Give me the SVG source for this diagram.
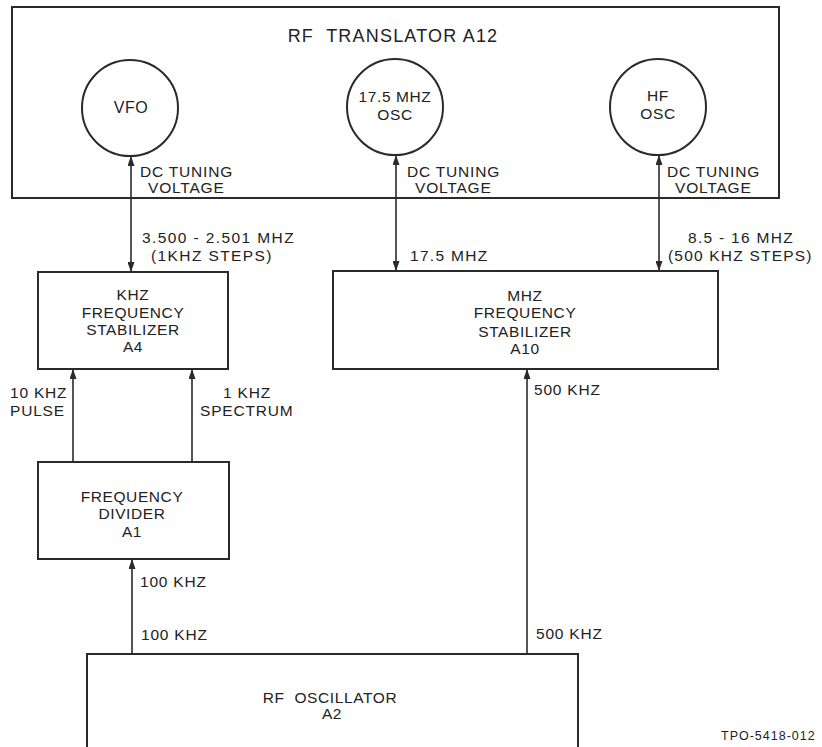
<svg xmlns="http://www.w3.org/2000/svg" width="822" height="747" viewBox="0 0 822 747">
<style>
  .box{fill:none;stroke:#2a2a2a;stroke-width:2}
  .osc{fill:#fff;stroke:#2a2a2a;stroke-width:2}
  .wire{fill:none;stroke:#2a2a2a;stroke-width:1.6}
  text{font-family:"Liberation Sans",Arial,sans-serif;fill:#222;font-size:15.5px;letter-spacing:0.6px}
  .c{text-anchor:middle}
  .pre{white-space:pre}
  .title{font-size:18px;letter-spacing:1.2px}
  .lbl{font-size:15.5px;letter-spacing:0.8px}
  .small{font-size:12.5px;letter-spacing:1px}
</style>
<defs>
  <marker id="ah" viewBox="0 0 10 7" refX="10" refY="3.5" markerWidth="10" markerHeight="7" markerUnits="userSpaceOnUse" orient="auto-start-reverse">
    <path d="M0,0 L10,3.5 L0,7 z" fill="#2a2a2a"/>
  </marker>
</defs>
<rect width="822" height="747" fill="#fff"/>

<g id="rf-translator">
  <rect class="box" x="12" y="7" width="767" height="191"/>
  <text class="title c pre" x="393" y="42" xml:space="preserve">RF  TRANSLATOR A12</text>
</g>
<g id="vfo">
  <circle class="osc" cx="130" cy="108" r="48"/>
  <text class="c" x="131" y="113" style="font-size:16px">VFO</text>
</g>
<g id="osc175">
  <circle class="osc" cx="395" cy="107" r="48"/>
  <text class="c" x="395" y="102">17.5 MHZ</text>
  <text class="c" x="395" y="120">OSC</text>
</g>
<g id="hfosc">
  <circle class="osc" cx="658" cy="107" r="48"/>
  <text class="c" x="658" y="101">HF</text>
  <text class="c" x="658" y="119">OSC</text>
</g>

<g id="khz-stabilizer">
  <rect class="box" x="38" y="272" width="190" height="97"/>
  <text class="c" x="133" y="300">KHZ</text>
  <text class="c" x="133" y="318">FREQUENCY</text>
  <text class="c" x="133" y="335">STABILIZER</text>
  <text class="c" x="133" y="352">A4</text>
</g>
<g id="mhz-stabilizer">
  <rect class="box" x="333" y="271" width="385" height="98"/>
  <text class="c" x="525" y="301">MHZ</text>
  <text class="c" x="525" y="318">FREQUENCY</text>
  <text class="c" x="525" y="337">STABILIZER</text>
  <text class="c" x="525" y="354">A10</text>
</g>
<g id="freq-divider">
  <rect class="box" x="38" y="462" width="191" height="97"/>
  <text class="c" x="132" y="502">FREQUENCY</text>
  <text class="c" x="132" y="519">DIVIDER</text>
  <text class="c" x="132" y="537">A1</text>
</g>
<g id="rf-oscillator">
  <path class="box" d="M87,760 L87,654 L578,654 L578,760"/>
  <text class="c pre" x="330" y="703" xml:space="preserve">RF  OSCILLATOR</text>
  <text class="c" x="332" y="719">A2</text>
</g>

<g id="connectors">
  <line class="wire" x1="131" y1="156" x2="131" y2="272" marker-start="url(#ah)" marker-end="url(#ah)"/>
  <line class="wire" x1="396" y1="155" x2="396" y2="271" marker-start="url(#ah)" marker-end="url(#ah)"/>
  <line class="wire" x1="659" y1="155" x2="659" y2="271" marker-start="url(#ah)" marker-end="url(#ah)"/>
  <line class="wire" x1="73" y1="462" x2="73" y2="369" marker-end="url(#ah)"/>
  <line class="wire" x1="192" y1="462" x2="192" y2="369" marker-end="url(#ah)"/>
  <line class="wire" x1="132" y1="654" x2="132" y2="559" marker-end="url(#ah)"/>
  <line class="wire" x1="527" y1="654" x2="527" y2="369" marker-end="url(#ah)"/>
</g>

<g id="labels">
  <text class="lbl" x="140" y="177">DC TUNING</text>
  <text class="lbl" x="148" y="193">VOLTAGE</text>
  <text class="lbl" x="407" y="177">DC TUNING</text>
  <text class="lbl" x="415" y="193">VOLTAGE</text>
  <text class="lbl" x="667" y="177">DC TUNING</text>
  <text class="lbl" x="675" y="193">VOLTAGE</text>

  <text class="lbl" x="142" y="243" style="letter-spacing:1.4px">3.500 - 2.501 MHZ</text>
  <text class="lbl" x="151" y="261" style="letter-spacing:1.4px">(1KHZ STEPS)</text>
  <text class="lbl" x="410" y="261" style="letter-spacing:1.3px">17.5 MHZ</text>
  <text class="lbl" x="688" y="243" style="letter-spacing:1.3px">8.5 - 16 MHZ</text>
  <text class="lbl" x="668" y="261" style="letter-spacing:1.2px">(500 KHZ STEPS)</text>

  <text class="lbl" x="10" y="398">10 KHZ</text>
  <text class="lbl" x="10" y="416">PULSE</text>
  <text class="lbl" x="223" y="398">1 KHZ</text>
  <text class="lbl" x="200" y="416">SPECTRUM</text>
  <text class="lbl" x="534" y="395">500 KHZ</text>

  <text class="lbl" x="140" y="587">100 KHZ</text>
  <text class="lbl" x="141" y="640">100 KHZ</text>
  <text class="lbl" x="536" y="639">500 KHZ</text>

  <text class="small" x="721" y="740">TPO-5418-012</text>
</g>
</svg>
